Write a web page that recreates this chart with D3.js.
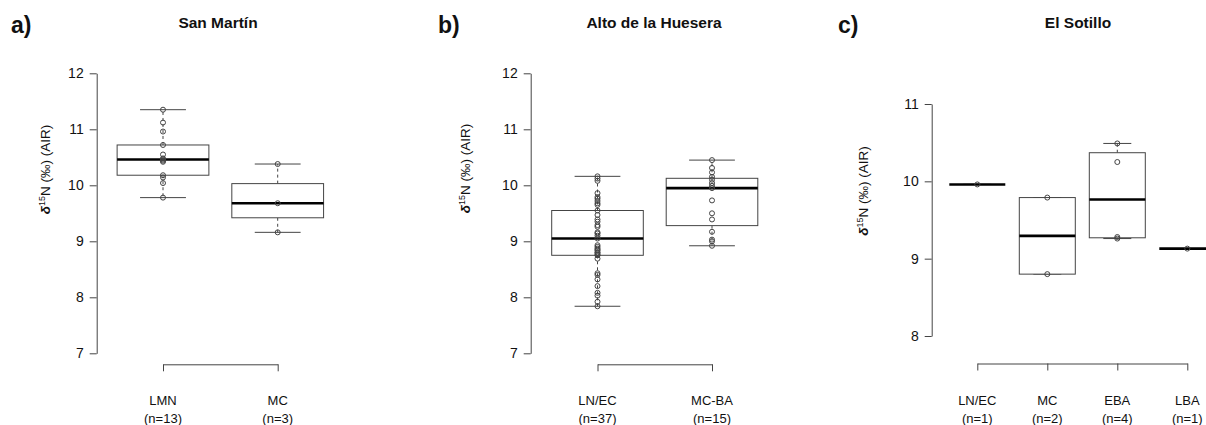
<!DOCTYPE html>
<html>
<head>
<meta charset="utf-8">
<script src="https://cdn.jsdelivr.net/npm/d3@7"></script>
<style>
  body { margin: 0; background: #fff; }
  svg { font-family: "Liberation Sans", Arial, Helvetica, sans-serif; }
</style>
</head>
<body>
<svg id="chart" width="1206" height="425"></svg>
<script>
// --- data (d15N, permil AIR) ---
const sanMartinGroups = ["LMN", "MC"];
const sanMartinLMN = [9.78, 10.04, 10.14, 10.18, 10.42, 10.44, 10.46, 10.48, 10.55, 10.72, 10.96, 11.12, 11.35];
const sanMartinMC = [9.16, 9.68, 10.38];

const huesaraGroups = ["LN/EC", "MC-BA"];
const huesaraLNEC = [7.84, 7.92, 8.03, 8.08, 8.20, 8.32, 8.40, 8.43, 8.69, 8.75,
  8.76, 8.79, 8.80, 8.83, 8.85, 8.87, 8.90, 8.93, 9.05,
  9.10, 9.14, 9.16, 9.26, 9.29, 9.35, 9.39, 9.47, 9.55,
  9.65, 9.68, 9.72, 9.76, 9.79, 9.86, 10.08, 10.12, 10.16];
const huesaraMCBA = [8.92, 9.00, 9.03, 9.17, 9.39, 9.50, 9.73, 9.95, 9.99, 10.04, 10.10, 10.15, 10.23, 10.31, 10.45];

const sotilloGroups = ["LN/EC", "MC", "EBA", "LBA"];
const sotilloLNEC = [9.96];
const sotilloMC = [8.80, 9.79];
const sotilloEBA = [9.26, 9.28, 10.25, 10.49];
const sotilloLBA = [9.13];

const ticksAB = [7, 8, 9, 10, 11, 12];
const ticksC = [8, 9, 10, 11];

const svg = d3.select("#chart");

// R-style fivenum (Tukey hinges)
function fivenum(v) {
  const x = v.slice().sort(d3.ascending);
  const n = x.length;
  const n4 = Math.floor((n + 3) / 2) / 2;
  const d = [1, n4, (n + 1) / 2, n + 1 - n4, n];
  return d.map(k => 0.5 * (x[Math.floor(k) - 1] + x[Math.ceil(k) - 1]));
}

function boxStats(v) {
  const f = fivenum(v);
  const iqr = f[3] - f[1];
  const lo = d3.min(v.filter(d => d >= f[1] - 1.5 * iqr));
  const hi = d3.max(v.filter(d => d <= f[3] + 1.5 * iqr));
  return { q1: f[1], med: f[2], q3: f[3], lo: lo, hi: hi };
}

function panel(opt) {
  const g = svg.append("g");
  const y = d3.scaleLinear().domain(opt.ydomain).range(opt.yrange);
  const x = d3.scalePoint().domain(opt.groups).range(opt.xrange);
  const bw = x.step() * 0.8;

  // panel letter and title
  g.append("text").attr("x", opt.letterX).attr("y", 33)
    .attr("font-size", 23).attr("font-weight", "bold").attr("fill", "#111")
    .text(opt.letter);
  g.append("text").attr("x", opt.titleX).attr("y", 28)
    .attr("text-anchor", "middle").attr("font-size", 15.5).attr("font-weight", "bold").attr("fill", "#111")
    .text(opt.title);

  // y axis
  const ya = g.append("g").attr("transform", `translate(${opt.axisX},0)`)
    .call(d3.axisLeft(y).tickValues(opt.ticks).tickSize(7).tickSizeOuter(0).tickPadding(6).tickFormat(d3.format("d")));
  ya.selectAll("path,line").attr("stroke", "#444");
  ya.selectAll("text").attr("font-size", 14).attr("fill", "#111").attr("font-family", null);

  // y label
  const yl = g.append("text")
    .attr("transform", `translate(${opt.ylabX},${opt.ylabY}) rotate(-90)`)
    .attr("text-anchor", "middle").attr("font-size", 13.5).attr("fill", "#111");
  yl.append("tspan").attr("font-weight", "bold").attr("font-style", "italic").text("δ");
  yl.append("tspan").attr("font-size", 9).attr("dy", -5).text("15");
  yl.append("tspan").attr("dy", 5).text("N (‰) (AIR)");

  // x axis bracket (no labels)
  const xa = g.append("g").attr("transform", `translate(0,${opt.xaxisY})`)
    .call(d3.axisBottom(x).tickSize(7).tickSizeOuter(0).tickFormat(""));
  xa.selectAll("path,line").attr("stroke", "#444");

  // category labels
  opt.groups.forEach((grp, i) => {
    const t = g.append("text").attr("text-anchor", "middle").attr("font-size", 13).attr("fill", "#111");
    t.append("tspan").attr("x", x(grp)).attr("y", 405).text(grp);
    t.append("tspan").attr("x", x(grp)).attr("y", 423).text(`(n=${opt.values[i].length})`);
  });

  // boxes
  opt.groups.forEach((grp, i) => {
    const v = opt.values[i];
    const s = boxStats(v);
    const cx = x(grp);
    const b = g.append("g");
    // whiskers
    b.append("line").attr("x1", cx).attr("x2", cx).attr("y1", y(s.q3)).attr("y2", y(s.hi))
      .attr("stroke", "#444").attr("stroke-dasharray", "3,3");
    b.append("line").attr("x1", cx).attr("x2", cx).attr("y1", y(s.q1)).attr("y2", y(s.lo))
      .attr("stroke", "#444").attr("stroke-dasharray", "3,3");
    [s.hi, s.lo].forEach(w => {
      b.append("line").attr("x1", cx - bw / 4).attr("x2", cx + bw / 4)
        .attr("y1", y(w)).attr("y2", y(w)).attr("stroke", "#444");
    });
    b.append("rect").attr("x", cx - bw / 2).attr("width", bw)
      .attr("y", y(s.q3)).attr("height", y(s.q1) - y(s.q3))
      .attr("fill", "#fff").attr("stroke", "#444");
    b.append("line").attr("x1", cx - bw / 2).attr("x2", cx + bw / 2)
      .attr("y1", y(s.med)).attr("y2", y(s.med)).attr("stroke", "#000").attr("stroke-width", 2.6);
    // raw points
    b.selectAll("circle").data(v).enter().append("circle")
      .attr("cx", cx).attr("cy", d => y(d)).attr("r", 2.5)
      .attr("fill", "none").attr("stroke", "#444").attr("stroke-width", 1);
  });
}

panel({
  letter: "a)", letterX: 11, title: "San Martín", titleX: 218,
  groups: sanMartinGroups, values: [sanMartinLMN, sanMartinMC],
  ydomain: [7, 12], yrange: [353.3, 73.3], ticks: ticksAB,
  xrange: [163, 277.7], axisX: 96.7, xaxisY: 364.3,
  ylabX: 50, ylabY: 169.5
});
panel({
  letter: "b)", letterX: 438, title: "Alto de la Huesera", titleX: 654,
  groups: huesaraGroups, values: [huesaraLNEC, huesaraMCBA],
  ydomain: [7, 12], yrange: [353.3, 73.3], ticks: ticksAB,
  xrange: [597.5, 712], axisX: 530.7, xaxisY: 364.3,
  ylabX: 470, ylabY: 168.5
});
panel({
  letter: "c)", letterX: 838, title: "El Sotillo", titleX: 1078,
  groups: sotilloGroups, values: [sotilloLNEC, sotilloMC, sotilloEBA, sotilloLBA],
  ydomain: [8, 11], yrange: [336, 104], ticks: ticksC,
  xrange: [977.3, 1187.3], axisX: 931.7, xaxisY: 363.5,
  ylabX: 868, ylabY: 191
});
</script>
</body>
</html>
